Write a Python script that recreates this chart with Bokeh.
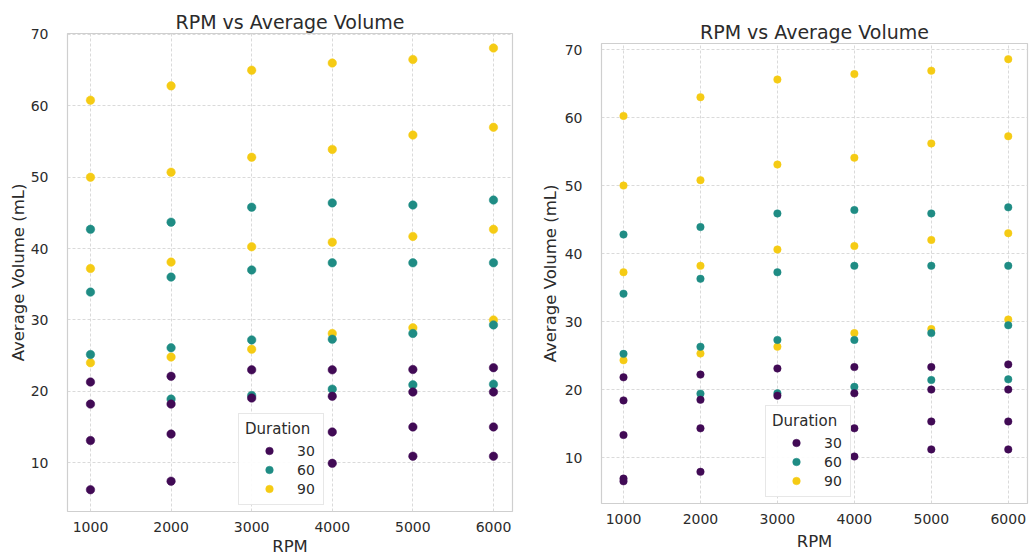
from bokeh.plotting import figure
from bokeh.layouts import row
from bokeh.models import Legend, LegendItem, Range1d, FixedTicker
from bokeh.embed import file_html
from bokeh.resources import INLINE

# ---------------- data: left chart ----------------
left_rpm_30 = [1000, 1000, 1000, 1000, 2000, 2000, 2000, 2000, 3000, 3000,
               4000, 4000, 4000, 4000, 5000, 5000, 5000, 5000, 6000, 6000, 6000, 6000]
left_vol_30 = [21.3, 18.2, 13.1, 6.2, 22.1, 18.2, 14.0, 7.4, 23.0, 19.05,
               23.0, 19.3, 14.3, 9.9, 23.05, 19.9, 15.0, 10.9, 23.3, 19.9, 15.0, 10.9]
left_rpm_60 = [1000, 1000, 1000, 2000, 2000, 2000, 2000, 3000, 3000, 3000, 3000,
               4000, 4000, 4000, 4000, 5000, 5000, 5000, 5000, 6000, 6000, 6000, 6000]
left_vol_60 = [42.7, 33.9, 25.15, 43.7, 36.0, 26.1, 18.9, 45.8, 37.0, 27.2, 19.4,
               46.4, 38.0, 27.3, 20.3, 46.1, 38.0, 28.1, 20.9, 46.8, 38.0, 29.3, 21.0]
left_rpm_90 = [1000, 1000, 1000, 1000, 2000, 2000, 2000, 2000, 3000, 3000, 3000, 3000,
               4000, 4000, 4000, 4000, 5000, 5000, 5000, 5000, 6000, 6000, 6000, 6000]
left_vol_90 = [60.8, 50.0, 37.2, 24.0, 62.8, 50.7, 38.1, 24.8, 65.0, 52.8, 40.25, 25.9,
               66.0, 53.9, 40.9, 28.1, 66.5, 55.9, 41.7, 28.9, 68.1, 57.0, 42.7, 30.0]

# ---------------- data: right chart ----------------
right_rpm_30 = [1000, 1000, 1000, 1000, 1000, 2000, 2000, 2000, 2000, 3000, 3000,
                4000, 4000, 4000, 4000, 5000, 5000, 5000, 5000, 6000, 6000, 6000, 6000]
right_vol_30 = [21.8, 18.4, 13.3, 6.9, 6.5, 22.2, 18.5, 14.3, 7.9, 23.1, 19.1,
                23.3, 19.45, 14.3, 10.15, 23.3, 20.0, 15.3, 11.2, 23.7, 20.0, 15.3, 11.2]
right_rpm_60 = [1000, 1000, 1000, 2000, 2000, 2000, 2000, 3000, 3000, 3000, 3000,
                4000, 4000, 4000, 4000, 5000, 5000, 5000, 5000, 6000, 6000, 6000, 6000]
right_vol_60 = [42.8, 34.1, 25.25, 43.9, 36.3, 26.3, 19.4, 45.9, 37.25, 27.3, 19.45,
                46.4, 38.2, 27.3, 20.4, 45.9, 38.2, 28.3, 21.4, 46.8, 38.2, 29.45, 21.5]
right_rpm_90 = [1000, 1000, 1000, 1000, 2000, 2000, 2000, 2000, 3000, 3000, 3000, 3000,
                4000, 4000, 4000, 4000, 5000, 5000, 5000, 5000, 6000, 6000, 6000, 6000]
right_vol_90 = [60.25, 50.0, 37.25, 24.3, 63.0, 50.8, 38.2, 25.3, 65.6, 53.1, 40.6, 26.3,
                66.4, 54.1, 41.1, 28.3, 66.9, 56.2, 42.0, 28.9, 68.6, 57.25, 43.0, 30.3]

durations = ["30", "60", "90"]
x_ticks = [1000, 2000, 3000, 4000, 5000, 6000]
y_ticks = [10, 20, 30, 40, 50, 60, 70]

TITLE = "RPM vs Average Volume"
X_LABEL = "RPM"
Y_LABEL = "Average Volume (mL)"
LEGEND_TITLE = "Duration"

COLORS = {"30": "#410a55", "60": "#1f8c84", "90": "#f5cb14"}
FONT = "DejaVu Sans"
TXT = "#2b2b2b"


def make_chart(series, width, height, borders, xr, yr, legend_loc, dot,
               ylab_standoff, xlab_standoff):
    bl, br, bt, bb = borders
    p = figure(width=width, height=height, output_backend="svg",
               toolbar_location=None, x_range=Range1d(*xr), y_range=Range1d(*yr),
               min_border_left=bl, min_border_right=br,
               min_border_top=bt, min_border_bottom=bb, frame_align=False)
    p.title.text = TITLE
    p.title.align = "center"
    p.title.text_font = FONT
    p.title.text_font_size = "19px"
    p.title.text_font_style = "normal"
    p.title.text_color = TXT
    p.title.standoff = 2

    p.background_fill_color = "white"
    p.border_fill_color = "white"
    p.outline_line_color = "#cfcfcf"
    p.outline_line_width = 1.2

    for ax in (p.xaxis[0], p.yaxis[0]):
        ax.axis_line_color = None
        ax.major_tick_line_color = None
        ax.minor_tick_line_color = None
        ax.major_label_text_font = FONT
        ax.major_label_text_font_size = "14px"
        ax.major_label_text_color = TXT
        ax.axis_label_text_font = FONT
        ax.axis_label_text_font_size = "16.5px"
        ax.axis_label_text_font_style = "normal"
        ax.axis_label_text_color = TXT
    p.xaxis[0].major_label_standoff = 4
    p.xaxis[0].axis_label_standoff = xlab_standoff
    p.yaxis[0].major_label_standoff = 13
    p.yaxis[0].axis_label_standoff = ylab_standoff
    p.xaxis[0].ticker = FixedTicker(ticks=x_ticks)
    p.yaxis[0].ticker = FixedTicker(ticks=y_ticks)
    p.xaxis[0].axis_label = X_LABEL
    p.yaxis[0].axis_label = Y_LABEL

    for g in (p.xgrid[0], p.ygrid[0]):
        g.grid_line_color = "#d6d6d6"
        g.grid_line_dash = "3 2"
        g.grid_line_width = 0.9

    renderers = {}
    for d in ["90", "60", "30"]:
        xs, ys = series[d]
        renderers[d] = p.scatter(xs, ys, size=dot, fill_color=COLORS[d],
                                 line_color=COLORS[d], line_width=0.5)

    items = [LegendItem(label=d, renderers=[renderers[d]]) for d in durations]
    leg = Legend(items=items, location=legend_loc, title=LEGEND_TITLE)
    leg.title_text_font = FONT
    leg.title_text_font_size = "15px"
    leg.title_text_font_style = "normal"
    leg.title_text_color = TXT
    leg.title_standoff = 3
    leg.label_text_font = FONT
    leg.label_text_font_size = "14px"
    leg.label_text_color = TXT
    leg.glyph_width = 48
    leg.glyph_height = 19
    leg.label_height = 19
    leg.label_standoff = 4
    leg.padding = 6
    leg.spacing = 0
    leg.margin = 0
    leg.border_line_color = "#cfcfcf"
    leg.background_fill_color = "white"
    leg.background_fill_alpha = 0.9
    p.add_layout(leg, "center")
    return p


left = make_chart(
    {"30": (left_rpm_30, left_vol_30), "60": (left_rpm_60, left_vol_60),
     "90": (left_rpm_90, left_vol_90)},
    width=535, height=558, borders=(67, 23, 33, 46),
    xr=(715, 6236), yr=(3.15, 70.14), legend_loc=(171, 6), dot=8.5,
    ylab_standoff=0, xlab_standoff=2)

right = make_chart(
    {"30": (right_rpm_30, right_vol_30), "60": (right_rpm_60, right_vol_60),
     "90": (right_rpm_90, right_vol_90)},
    width=494, height=558, borders=(66, 2, 43, 55),
    xr=(714, 6250), yr=(3.24, 70.9), legend_loc=(164, 6), dot=7.5,
    ylab_standoff=2, xlab_standoff=5)

layout = row(left, right)

open("out.html", "w").write(file_html(layout, INLINE))
